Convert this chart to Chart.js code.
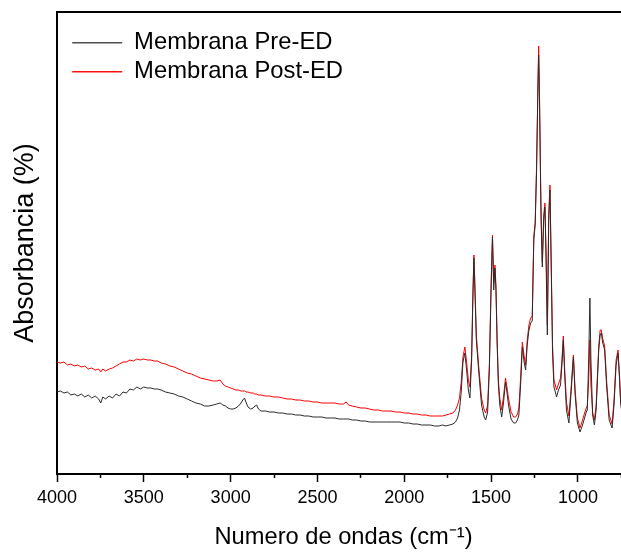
<!DOCTYPE html>
<html>
<head>
<meta charset="utf-8">
<script src="https://cdn.jsdelivr.net/npm/chart.js@4/dist/chart.umd.min.js"></script>
<style>
  html, body { margin: 0; padding: 0; background: #fff; overflow: hidden; }
  #wrap { position: relative; width: 632px; height: 554px; }
</style>
</head>
<body>
<div id="wrap"><canvas id="c"></canvas></div>
<script>
// FTIR spectra of the membrane before and after electrodialysis
const wavenumbers = [
  4000, 3980, 3960, 3940, 3920, 3900, 3880, 3860, 3840, 3820,
  3800, 3780, 3760, 3748, 3736, 3720, 3700, 3680, 3660, 3640,
  3620, 3600, 3580, 3560, 3540, 3520, 3500, 3480, 3460, 3440,
  3420, 3400, 3375, 3350, 3325, 3300, 3275, 3250, 3225, 3200,
  3175, 3150, 3125, 3100, 3080, 3060, 3045, 3030, 3015, 3000,
  2985, 2970, 2955, 2940, 2930, 2920, 2910, 2900, 2885, 2870,
  2860, 2850, 2840, 2825, 2800, 2775, 2750, 2725, 2700, 2675,
  2650, 2625, 2600, 2575, 2550, 2525, 2500, 2475, 2450, 2425,
  2400, 2375, 2350, 2335, 2320, 2300, 2275, 2250, 2225, 2200,
  2175, 2150, 2125, 2100, 2075, 2050, 2025, 2000, 1975, 1950,
  1925, 1900, 1875, 1850, 1825, 1800, 1780, 1760, 1740, 1720,
  1705, 1693, 1682, 1672, 1662, 1651, 1641, 1631, 1622, 1612,
  1605, 1599, 1594, 1585, 1571, 1555, 1540, 1531, 1520, 1510,
  1500, 1492, 1485, 1478, 1472, 1465, 1458, 1450, 1439, 1428,
  1417, 1408, 1400, 1385, 1370, 1359, 1348, 1340, 1330, 1320,
  1310, 1301, 1292, 1282, 1272, 1263, 1254, 1246, 1238, 1230,
  1226, 1221, 1216, 1212, 1205, 1197, 1190, 1184, 1176, 1168,
  1161, 1155, 1146, 1138, 1130, 1123, 1112, 1100, 1092, 1084,
  1076, 1066, 1052, 1040, 1026, 1016, 1003, 988, 975, 965,
  952, 946, 938, 931, 925, 915, 905, 895, 880, 872,
  865, 858, 846, 835, 820, 803, 792, 780, 769, 760,
  754, 745
];

const preED = [
  16.4, 16.6, 16.2, 16.4, 15.8, 16.0, 15.6, 16.0, 15.4, 15.8,
  15.2, 15.6, 15.0, 14.2, 15.4, 15.0, 15.6, 15.2, 16.0, 15.6,
  16.4, 16.2, 17.0, 16.8, 17.4, 17.0, 17.4, 17.2, 17.2, 17.0,
  17.0, 16.8, 16.4, 16.2, 16.0, 15.6, 15.4, 15.0, 14.6, 14.2,
  14.0, 13.6, 13.6, 13.8, 14.0, 14.2, 13.8, 13.6, 13.2, 13.0,
  13.0, 13.2, 13.6, 14.2, 14.8, 15.2, 14.2, 13.4, 13.0, 13.2,
  13.6, 13.8, 13.0, 12.6, 12.6, 12.4, 12.4, 12.2, 12.2, 12.0,
  12.0, 11.8, 11.8, 11.6, 11.6, 11.4, 11.4, 11.4, 11.2, 11.2,
  11.2, 11.0, 11.0, 11.0, 11.0, 10.8, 10.8, 10.6, 10.6, 10.4,
  10.4, 10.4, 10.4, 10.4, 10.4, 10.4, 10.4, 10.2, 10.2, 10.0,
  10.0, 9.8, 9.8, 9.8, 9.6, 9.6, 9.8, 9.6, 9.8, 10.0,
  10.4, 11.2, 12.8, 16.4, 22.4, 24.2, 20.8, 16.8, 15.2, 22.8,
  34.8, 43.2, 37.8, 26.8, 20.4, 13.8, 11.4, 10.8, 12.4, 20.8,
  36.8, 47.4, 36.8, 41.2, 36.8, 25.8, 17.8, 13.8, 11.4, 14.4,
  18.4, 16.2, 13.8, 11.0, 10.2, 10.2, 10.8, 11.8, 17.8, 25.4,
  22.4, 20.8, 25.8, 28.8, 30.2, 30.6, 46.8, 49.8, 60.8, 77.4,
  83.8, 74.2, 60.8, 50.8, 41.4, 50.8, 53.4, 44.2, 27.8, 50.8,
  56.8, 44.2, 24.2, 17.4, 16.4, 15.4, 16.8, 17.8, 21.8, 26.8,
  19.8, 12.8, 10.2, 15.8, 23.4, 15.8, 10.2, 8.4, 9.6, 10.8,
  12.4, 12.8, 22.8, 35.2, 22.8, 11.8, 9.8, 12.8, 24.8, 27.8,
  28.2, 26.4, 24.8, 17.8, 10.8, 9.2, 13.8, 21.8, 24.2, 18.8,
  14.2, 11.8
];

const postED = [
  22.4, 22.2, 22.4, 21.8, 22.0, 21.6, 21.8, 21.4, 21.6, 21.0,
  21.2, 20.8, 21.0, 20.4, 21.0, 20.6, 21.0, 21.2, 21.6, 22.0,
  22.4, 22.4, 22.8, 22.6, 23.0, 22.8, 23.0, 22.8, 22.8, 22.6,
  22.6, 22.2, 22.0, 21.6, 21.4, 21.0, 20.6, 20.2, 20.0, 19.6,
  19.2, 19.0, 18.8, 18.6, 18.6, 18.8, 18.0, 17.6, 17.4, 17.2,
  17.0, 16.8, 16.8, 16.6, 16.6, 16.6, 16.4, 16.4, 16.2, 16.2,
  16.0, 16.0, 15.8, 15.8, 15.6, 15.6, 15.4, 15.4, 15.2, 15.0,
  15.0, 14.8, 14.8, 14.6, 14.6, 14.4, 14.4, 14.2, 14.2, 14.2,
  14.2, 14.0, 14.0, 14.4, 13.8, 13.6, 13.4, 13.2, 13.2, 13.0,
  12.8, 12.8, 12.6, 12.6, 12.6, 12.4, 12.4, 12.2, 12.2, 12.0,
  12.0, 11.8, 11.8, 11.6, 11.6, 11.6, 11.6, 11.8, 12.0, 12.2,
  12.8, 13.8, 15.2, 18.4, 23.4, 25.4, 22.4, 18.8, 17.4, 23.8,
  35.8, 43.8, 38.8, 27.8, 21.4, 15.2, 12.8, 12.2, 13.8, 21.8,
  37.8, 47.8, 38.2, 41.8, 37.8, 26.8, 18.8, 15.2, 12.8, 15.6,
  19.2, 17.2, 15.2, 12.4, 11.4, 11.4, 12.0, 13.2, 19.2, 26.4,
  23.6, 21.8, 26.8, 29.8, 31.2, 31.6, 47.6, 50.4, 61.8, 78.8,
  85.6, 75.2, 61.8, 51.8, 42.4, 51.8, 54.2, 45.2, 29.8, 52.2,
  57.8, 45.2, 25.8, 18.8, 17.8, 16.8, 18.0, 19.2, 22.8, 27.6,
  20.8, 14.4, 11.6, 16.8, 23.8, 16.8, 11.2, 9.2, 10.6, 11.8,
  13.2, 13.6, 18.8, 26.8, 17.8, 12.2, 10.8, 13.8, 25.6, 28.8,
  28.8, 27.2, 25.6, 18.8, 11.8, 10.0, 14.8, 22.8, 24.8, 19.4,
  14.8, 12.4
];

const seriesLabels = ['Membrana Pre-ED', 'Membrana Post-ED'];
const seriesColors = ['#2a2a2a', '#ff0000'];
const legendLineColors = ['#505050', '#ff1010'];

// wavenumber axis (drawn high to low)
const xRange = { from: 4000, to: 700 };
const xMajorTicks = [4000, 3500, 3000, 2500, 2000, 1500, 1000];
const xMinorTicks = [3750, 3250, 2750, 2250, 1750, 1250, 750];
const yRange = { min: 0, max: 92.4 };

const FONT = 'Liberation Sans, Arial, sans-serif';
Chart.defaults.font.family = FONT;
Chart.defaults.color = '#000';

const toPoints = (vals) => wavenumbers.map((w, i) => ({ x: w, y: vals[i] }));

// places the legend block inside the upper-left corner of the plot
const legendInset = {
  id: 'legendInset',
  afterLayout(chart) {
    const lg = chart.legend;
    if (!lg) return;
    lg.left = chart.chartArea.left + 10;
    lg.top = chart.chartArea.top + 13.6;
  }
};

const seriesStyle = (i) => ({
  borderColor: seriesColors[i],
  backgroundColor: seriesColors[i],
  borderWidth: 1,
  pointRadius: 0,
  tension: 0,
  xAxisID: 'x',
  yAxisID: 'y'
});

new Chart(document.getElementById('c'), {
  type: 'line',
  data: {
    datasets: [
      Object.assign({ label: seriesLabels[0], data: toPoints(preED) }, seriesStyle(0)),
      Object.assign({ label: seriesLabels[1], data: toPoints(postED) }, seriesStyle(1))
    ]
  },
  options: {
    responsive: true,
    maintainAspectRatio: false,
    devicePixelRatio: 1,
    animation: false,
    events: [],
    layout: { padding: { left: 0, right: 2, top: 12, bottom: 0 } },
    plugins: {
      tooltip: { enabled: false },
      legend: {
        display: true,
        position: 'chartArea',
        align: 'start',
        labels: {
          usePointStyle: false,
          boxWidth: 50,
          boxHeight: 1.6,
          padding: 5.2,
          color: '#000',
          font: { family: FONT, size: 23.8 },
          // thin solid bar as the line sample of each series
          generateLabels(chart) {
            return chart.data.datasets.map((ds, i) => ({
              text: ds.label,
              datasetIndex: i,
              fontColor: '#000',
              fillStyle: legendLineColors[i],
              strokeStyle: legendLineColors[i],
              lineWidth: 0,
              hidden: false
            }));
          }
        }
      }
    },
    scales: {
      x: {
        type: 'linear',
        position: 'bottom',
        weight: 1,
        reverse: true,
        min: xRange.to,
        max: xRange.from,
        afterBuildTicks(s) { s.ticks = xMajorTicks.map(v => ({ value: v })); },
        ticks: {
          autoSkip: false,
          maxRotation: 0,
          padding: 5,
          color: '#000',
          font: { family: FONT, size: 18 },
          callback: (v) => String(v)
        },
        grid: { display: true, drawOnChartArea: false, drawTicks: true, tickLength: 8, tickColor: '#000', tickWidth: 1.5 },
        border: { display: true, color: '#000', width: 2 },
        title: {
          display: true,
          text: 'Numero de ondas (cm\u207B\u00B9)',
          color: '#000',
          font: { family: FONT, size: 23.7 },
          padding: { top: 0, bottom: 2.8 }
        },
        afterFit(s) { s.height = 80; }
      },
      xMinor: {
        type: 'linear',
        position: 'bottom',
        weight: 0,
        reverse: true,
        min: xRange.to,
        max: xRange.from,
        afterBuildTicks(s) { s.ticks = xMinorTicks.map(v => ({ value: v })); },
        ticks: { display: false, autoSkip: false },
        grid: { display: true, drawOnChartArea: false, drawTicks: true, tickLength: 4, tickColor: '#000', tickWidth: 1.5 },
        border: { display: false },
        afterFit(s) { s.height = 0; }
      },
      xTop: {
        type: 'linear',
        position: 'top',
        reverse: true,
        min: xRange.to,
        max: xRange.from,
        ticks: { display: false },
        grid: { display: false, drawTicks: false },
        border: { display: true, color: '#000', width: 2 },
        afterFit(s) { s.height = 0; }
      },
      y: {
        type: 'linear',
        position: 'left',
        min: yRange.min,
        max: yRange.max,
        ticks: { display: false },
        grid: { display: false, drawTicks: false },
        border: { display: true, color: '#000', width: 2 },
        title: {
          display: true,
          text: 'Absorbancia (%)',
          color: '#000',
          font: { family: FONT, size: 27 },
          padding: { top: 9.8, bottom: 0 }
        },
        afterFit(s) { s.width = 57; }
      }
    }
  },
  plugins: [legendInset]
});
</script>
</body>
</html>
